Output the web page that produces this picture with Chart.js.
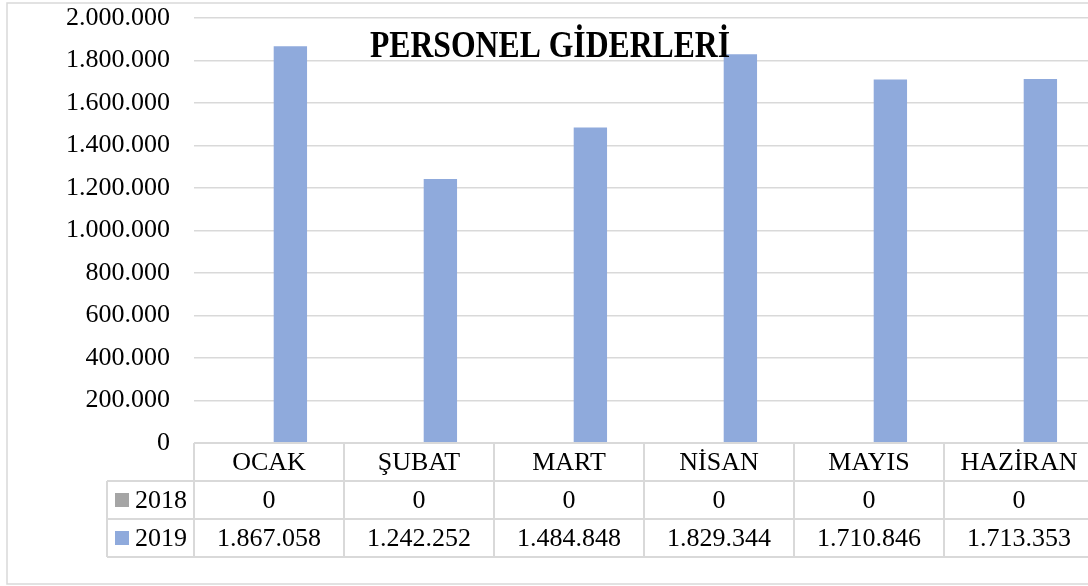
<!DOCTYPE html>
<html>
<head>
<meta charset="utf-8">
<script src="https://cdn.jsdelivr.net/npm/chart.js@4"></script>
<style>
    html, body { margin: 0; padding: 0; background: #fff; overflow: hidden; }
    canvas { display: block; }
</style>
</head>
<body>
<canvas id="chart" width="1100" height="586"></canvas>
<script>
// Personel giderleri, aylık (2018 / 2019)
const months = ['OCAK', 'ŞUBAT', 'MART', 'NİSAN', 'MAYIS', 'HAZİRAN'];
const years = ['2018', '2019'];
const values2018 = [0, 0, 0, 0, 0, 0];
const values2019 = [1867058, 1242252, 1484848, 1829344, 1710846, 1713353];
const yTicks = [0, 200000, 400000, 600000, 800000, 1000000, 1200000, 1400000, 1600000, 1800000, 2000000];
const chartTitle = 'PERSONEL GİDERLERİ';

const FONT = "'Liberation Serif', 'Times New Roman', serif";
const GRID = '#d9d9d9';
const colors = ['#a5a5a5', '#8faadc'];

// 1.867.058 style
const fmt = (v) => String(v).replace(/\B(?=(\d{3})+(?!\d))/g, '.');

// frame + title + data table under the plot
const tablePlugin = {
    id: 'dataTable',
    afterDraw(chart) {
        const { ctx, chartArea } = chart;
        const x = chart.scales.x;
        const rowH = 38;
        const legendW = 87;
        const top = chartArea.bottom;
        const colW = (chartArea.right - chartArea.left) / months.length;
        const rows = [values2018, values2019];

        ctx.save();

        // outer frame
        ctx.strokeStyle = GRID;
        ctx.lineWidth = 1.5;
        ctx.strokeRect(7, 3, 1200, 581);

        // title
        ctx.fillStyle = '#000';
        ctx.font = `bold 38px ${FONT}`;
        ctx.textAlign = 'center';
        ctx.textBaseline = 'alphabetic';
        ctx.fillText(chartTitle, 550, 57, 360);

        // table grid
        ctx.strokeStyle = GRID;
        ctx.lineWidth = 2;
        ctx.beginPath();
        ctx.moveTo(chartArea.left, top);
        ctx.lineTo(chartArea.right, top);
        for (let r = 1; r <= 3; r++) {
            ctx.moveTo(chartArea.left - legendW, top + r * rowH);
            ctx.lineTo(chartArea.right, top + r * rowH);
        }
        for (let i = 0; i <= months.length; i++) {
            const cx = chartArea.left + i * colW;
            ctx.moveTo(cx, top);
            ctx.lineTo(cx, top + 3 * rowH);
        }
        ctx.moveTo(chartArea.left - legendW, top + rowH);
        ctx.lineTo(chartArea.left - legendW, top + 3 * rowH);
        ctx.stroke();

        // cell text
        ctx.fillStyle = '#000';
        ctx.font = `26px ${FONT}`;
        ctx.textAlign = 'center';
        ctx.textBaseline = 'middle';
        months.forEach((m, i) => {
            const cx = x.getPixelForValue(i);
            ctx.fillText(m, cx, top + rowH * 0.5 + 1);
            rows.forEach((vals, r) => {
                ctx.fillText(fmt(vals[i]), cx, top + rowH * (r + 1.5) + 1);
            });
        });

        // legend keys
        years.forEach((y, r) => {
            const cy = top + rowH * (r + 1.5);
            ctx.fillStyle = colors[r];
            ctx.fillRect(chartArea.left - legendW + 8, cy - 7, 14, 14);
            ctx.fillStyle = '#000';
            ctx.textAlign = 'left';
            ctx.fillText(y, chartArea.left - legendW + 28, cy + 1);
        });

        ctx.restore();
    },
};

new Chart(document.getElementById('chart'), {
    type: 'bar',
    data: {
        labels: months,
        datasets: [
            { label: years[0], data: values2018, backgroundColor: colors[0], borderWidth: 0 },
            { label: years[1], data: values2019, backgroundColor: colors[1], borderWidth: 0 },
        ],
    },
    options: {
        responsive: false,
        animation: false,
        categoryPercentage: 0.57,
        barPercentage: 0.78,
        layout: {
            padding: { left: 0, right: 6, top: 18, bottom: 143 },
        },
        plugins: {
            legend: { display: false },
            tooltip: { enabled: false },
            title: { display: false },
        },
        scales: {
            x: {
                display: false,
            },
            y: {
                min: 0,
                max: 2000000,
                afterFit: (scale) => {
                    scale.width = 194;
                    scale.paddingTop = 0;
                    scale.paddingBottom = 0;
                },
                afterBuildTicks: (scale) => { scale.ticks = yTicks.map((v) => ({ value: v })); },
                border: { display: false },
                grid: { color: GRID, lineWidth: 1.5, drawTicks: false },
                ticks: {
                    padding: 24,
                    color: '#000',
                    font: { family: FONT, size: 26 },
                    callback: (v) => fmt(v),
                },
            },
        },
    },
    plugins: [tablePlugin],
});
</script>
</body>
</html>
